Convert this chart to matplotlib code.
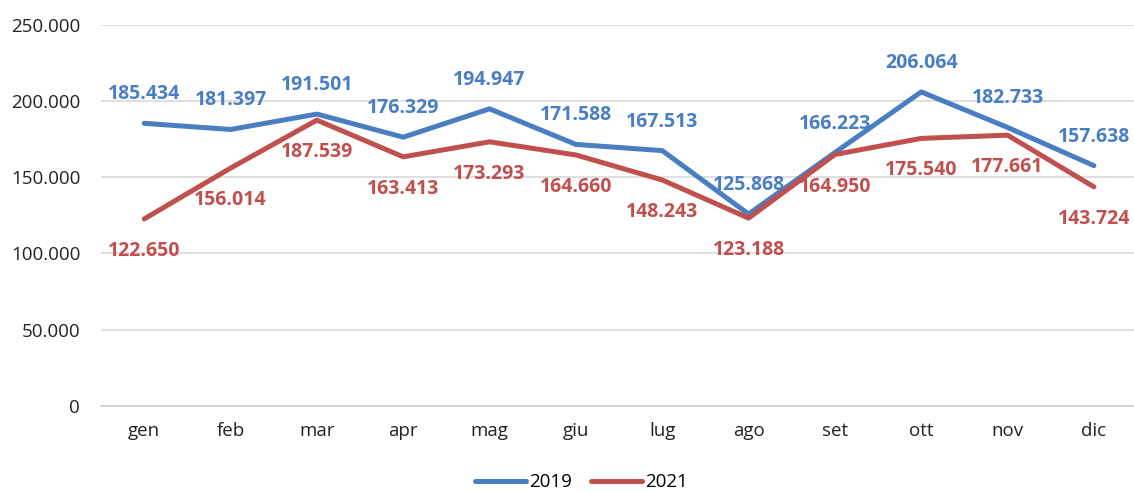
import numpy as np
import matplotlib.pyplot as plt
from matplotlib.ticker import FuncFormatter

plt.rcParams['font.family'] = ['Open Sans', 'DejaVu Sans']

mesi = ["gen", "feb", "mar", "apr", "mag", "giu", "lug", "ago", "set", "ott", "nov", "dic"]
v2019 = [185434, 181397, 191501, 176329, 194947, 171588, 167513, 125868, 166223, 206064, 182733, 157638]
v2021 = [122650, 156014, 187539, 163413, 173293, 164660, 148243, 123188, 164950, 175540, 177661, 143724]

blu = "#4a7ec2"
rosso = "#c0504d"

fig = plt.figure(figsize=(11.34, 4.91), dpi=100)
ax = fig.add_axes([0.0891, 0.1737, 0.9136, 0.7754])
x = np.arange(len(mesi))

ax.plot(x, v2019, color=blu, lw=3.6, label="2019", solid_capstyle="round", solid_joinstyle="round")
ax.plot(x, v2021, color=rosso, lw=3.6, label="2021", solid_capstyle="round", solid_joinstyle="round")

def fmt(v):
    return f"{v:,}".replace(",", ".")

# etichette: 2019 sopra, 2021 sotto
for i in range(len(mesi)):
    ax.annotate(fmt(v2019[i]), (x[i], v2019[i]), xytext=(0, 29), textcoords="offset pixels",
                ha="center", va="center", color=blu, fontsize=14, fontweight="bold")
    ax.annotate(fmt(v2021[i]), (x[i], v2021[i]), xytext=(0, -32), textcoords="offset pixels",
                ha="center", va="center", color=rosso, fontsize=14, fontweight="bold")

ax.set_xlim(-0.5, 11.5)
ax.set_ylim(0, 250000)
ax.set_yticks(np.arange(0, 250001, 50000))
ax.yaxis.set_major_formatter(FuncFormatter(lambda v, p: fmt(int(v))))
ax.set_xticks(x)
ax.set_xticklabels(mesi)
ax.tick_params(axis="both", length=0, labelsize=13.5, colors="#222222")
ax.tick_params(axis="x", pad=12)
ax.tick_params(axis="y", pad=15)
ax.grid(axis="y", color="#d9d9d9", lw=1.2)
ax.set_axisbelow(True)
for s in ["top", "right", "left"]:
    ax.spines[s].set_visible(False)
ax.spines["bottom"].set_color("#d0d0d0")
ax.spines["bottom"].set_linewidth(1.2)

fig.legend(loc="center", bbox_to_anchor=(0.513, 0.018), ncol=2, frameon=False,
           fontsize=13.5, handlelength=2.7, columnspacing=1.0, handletextpad=0.2,
           borderpad=0)

fig.savefig("out.png", dpi=100)
